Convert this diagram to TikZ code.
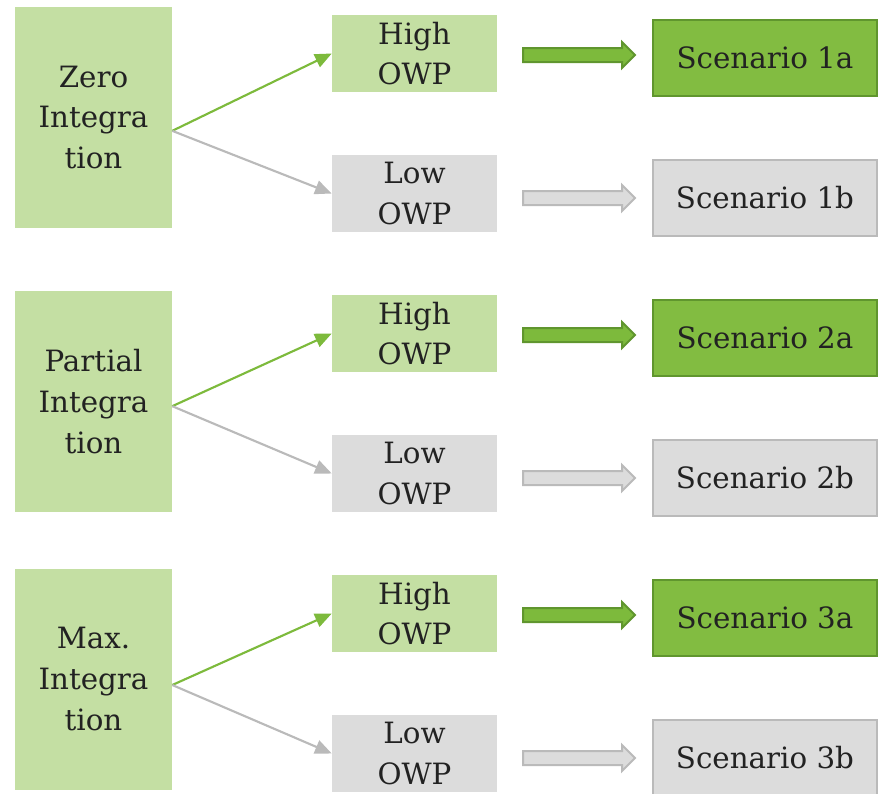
\documentclass[tikz,border=0pt]{standalone}
\usepackage{fontspec}
\setmainfont{DejaVu Serif}
\usepackage{tikz}
\usetikzlibrary{arrows.meta,shapes.arrows}

\definecolor{palegreen}{RGB}{196,223,163}
\definecolor{leafgreen}{RGB}{130,188,65}
\definecolor{darkleaf}{RGB}{96,150,46}
\definecolor{linegreen}{RGB}{125,186,60}
\definecolor{palegray}{RGB}{220,220,220}
\definecolor{edgegray}{RGB}{186,186,186}
\definecolor{inkgray}{RGB}{34,34,34}

\tikzset{
	every node/.style={text=inkgray, inner sep=0pt, align=center, font=\fontsize{22}{30.5}\selectfont},
	stage/.style={fill=palegreen, minimum width=117.75pt, minimum height=165.75pt},
	owphigh/.style={fill=palegreen, minimum width=123.75pt, minimum height=57.75pt},
	owplow/.style={fill=palegray, minimum width=123.75pt, minimum height=57.75pt},
	scenhigh/.style={fill=leafgreen, draw=darkleaf, line width=1.5pt, minimum width=168pt, minimum height=57pt},
	scenlow/.style={fill=palegray, draw=edgegray, line width=1.5pt, minimum width=168pt, minimum height=57pt},
	fatarrow/.style={single arrow, minimum height=84pt, inner xsep=0pt, inner ysep=4.5pt, single arrow head extend=4.5pt, line width=1.5pt},
	gohigh/.style={fatarrow, fill=linegreen, draw=darkleaf},
	golow/.style={fatarrow, fill=palegray, draw=edgegray},
	uphigh/.style={draw=linegreen, line width=1.6pt, -{Triangle[length=12.5pt, width=10.5pt]}},
	uplow/.style={draw=edgegray, line width=1.6pt, -{Triangle[length=12.5pt, width=10.5pt]}}
}

\begin{document}
\begin{tikzpicture}[x=0.75pt, y=-0.75pt]
	\useasboundingbox (0,0) rectangle (881,793);

	% zero integration
	\node[stage] (zero) at (93.5,117.5) {Zero\\Integra\\tion};
	\node[owphigh] (zerohigh) at (414.5,53.5) {High\\OWP};
	\node[owplow] (zerolow) at (414.5,193.5) {Low\\OWP};
	\node[gohigh] (zeroarrowa) at (575.5,55) {};
	\node[golow] (zeroarrowb) at (575.5,198) {};
	\node[scenhigh] (scena) at (765,57.5) {Scenario 1a};
	\node[scenlow] (scenb) at (765,197.5) {Scenario 1b};
	\draw[uphigh] ([yshift=-10pt]zero.east) -- (zerohigh.west);
	\draw[uplow] ([yshift=-10pt]zero.east) -- (zerolow.west);

	% partial integration
	\node[stage] (partial) at (93.5,401.5) {Partial\\Integra\\tion};
	\node[owphigh] (partialhigh) at (414.5,333.5) {High\\OWP};
	\node[owplow] (partiallow) at (414.5,473.5) {Low\\OWP};
	\node[gohigh] (partialarrowa) at (575.5,335) {};
	\node[golow] (partialarrowb) at (575.5,478) {};
	\node[scenhigh] (scenc) at (765,337.5) {Scenario 2a};
	\node[scenlow] (scend) at (765,477.5) {Scenario 2b};
	\draw[uphigh] ([yshift=-3.5pt]partial.east) -- (partialhigh.west);
	\draw[uplow] ([yshift=-3.5pt]partial.east) -- (partiallow.west);

	% max integration
	\node[stage] (max) at (93.5,679) {Max.\\Integra\\tion};
	\node[owphigh] (maxhigh) at (414.5,613.5) {High\\OWP};
	\node[owplow] (maxlow) at (414.5,753.5) {Low\\OWP};
	\node[gohigh] (maxarrowa) at (575.5,615) {};
	\node[golow] (maxarrowb) at (575.5,758) {};
	\node[scenhigh] (scene) at (765,617.5) {Scenario 3a};
	\node[scenlow] (scenf) at (765,757.5) {Scenario 3b};
	\draw[uphigh] ([yshift=-4.5pt]max.east) -- (maxhigh.west);
	\draw[uplow] ([yshift=-4.5pt]max.east) -- (maxlow.west);
\end{tikzpicture}
\end{document}
